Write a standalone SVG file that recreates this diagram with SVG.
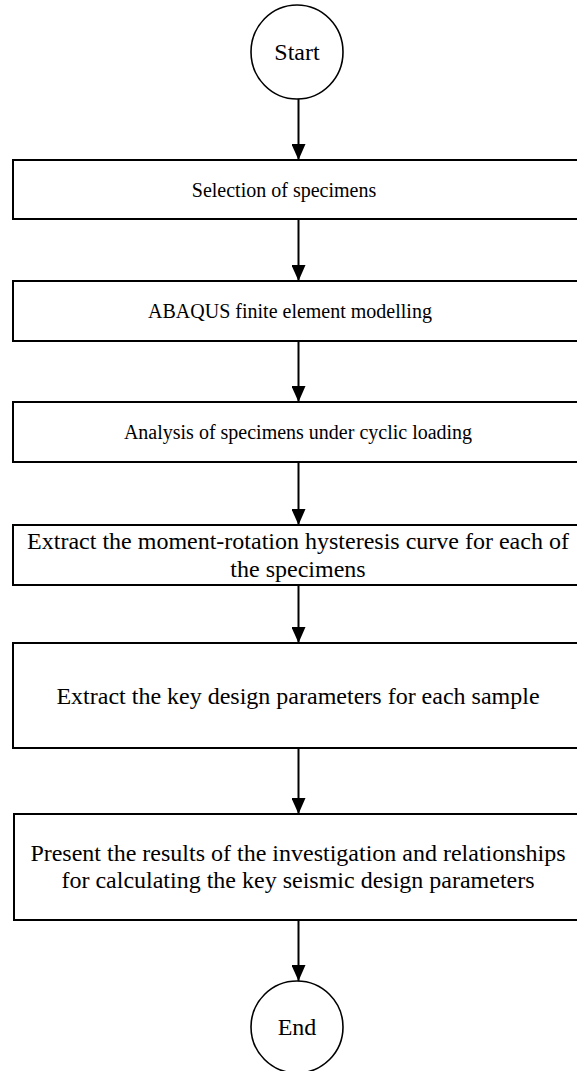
<svg xmlns="http://www.w3.org/2000/svg" width="577" height="1071" viewBox="0 0 577 1071">
<style>
.box{fill:#fff;stroke:#000;stroke-width:2}
.term{fill:#fff;stroke:#000;stroke-width:1.6}
.lbl{font-family:"Liberation Serif","Times New Roman",serif;font-size:24px;fill:#000;text-anchor:middle}
.sm{font-size:20px}
.conn{stroke:#000;stroke-width:2;fill:none;marker-end:url(#arr)}
</style>
<defs>
<marker id="arr" viewBox="0 0 16 14" refX="16" refY="7" markerWidth="16" markerHeight="14" markerUnits="userSpaceOnUse" orient="auto">
<path d="M0,0 L16,7 L0,14 z" fill="#000"/>
</marker>
</defs>
<rect width="577" height="1071" fill="#fff"/>
<g id="connectors">
<line class="conn" x1="298.5" y1="99" x2="298.5" y2="160"/>
<line class="conn" x1="298.5" y1="219" x2="298.5" y2="281"/>
<line class="conn" x1="298.5" y1="341" x2="298.5" y2="402"/>
<line class="conn" x1="298.5" y1="462" x2="298.5" y2="525"/>
<line class="conn" x1="298.5" y1="585" x2="298.5" y2="643"/>
<line class="conn" x1="298.5" y1="748" x2="298.5" y2="814"/>
<line class="conn" x1="298.5" y1="920" x2="298.5" y2="981"/>
</g>
<g id="start">
<ellipse class="term" cx="297" cy="52" rx="46" ry="47"/>
<text class="lbl" x="297" y="60">Start</text>
</g>
<g id="selection">
<rect class="box" x="13" y="160" width="575" height="59"/>
<text class="lbl sm" x="284" y="197">Selection of specimens</text>
</g>
<g id="abaqus">
<rect class="box" x="13" y="281" width="575" height="60"/>
<text class="lbl sm" x="290" y="318">ABAQUS finite element modelling</text>
</g>
<g id="analysis">
<rect class="box" x="13" y="402" width="575" height="60"/>
<text class="lbl sm" x="298" y="439">Analysis of specimens under cyclic loading</text>
</g>
<g id="extract-curve">
<rect class="box" x="13" y="525" width="575" height="60"/>
<text class="lbl" x="298" y="549">Extract the moment-rotation hysteresis curve for each of</text>
<text class="lbl" x="298" y="577">the specimens</text>
</g>
<g id="extract-params">
<rect class="box" x="13" y="643" width="575" height="105"/>
<text class="lbl" x="298" y="704">Extract the key design parameters for each sample</text>
</g>
<g id="present">
<rect class="box" x="14" y="814" width="575" height="106"/>
<text class="lbl" x="298" y="861">Present the results of the investigation and relationships</text>
<text class="lbl" x="298" y="888">for calculating the key seismic design parameters</text>
</g>
<g id="end">
<ellipse class="term" cx="297" cy="1027" rx="46" ry="46"/>
<text class="lbl" x="297" y="1035">End</text>
</g>
</svg>
